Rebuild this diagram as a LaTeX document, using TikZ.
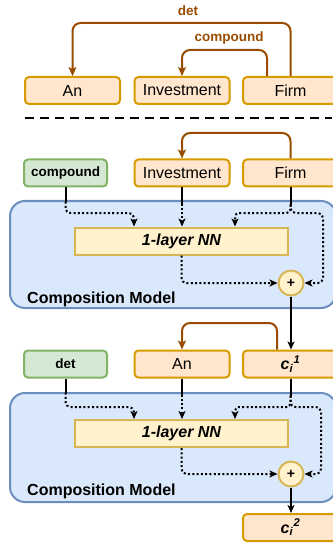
\documentclass[tikz,border=0pt]{standalone}
\usepackage{fontspec}
\setmainfont{Liberation Sans}
\usetikzlibrary{arrows.meta,calc}

\definecolor{ofill}{HTML}{FFE6CC}
\definecolor{ostroke}{HTML}{D79B00}
\definecolor{gfill}{HTML}{D5E8D4}
\definecolor{gstroke}{HTML}{82B366}
\definecolor{bfill}{HTML}{DAE8FC}
\definecolor{bstroke}{HTML}{6C8EBF}
\definecolor{yfill}{HTML}{FFF2CC}
\definecolor{ystroke}{HTML}{D6B656}
\definecolor{depbrown}{HTML}{994C00}

\tikzset{
  obox/.style={draw=ostroke, fill=ofill, line width=2pt, rounded corners=4pt,
    minimum width=95pt, minimum height=27pt, inner sep=0pt,
    font=\fontsize{16}{19}\selectfont},
  gbox/.style={draw=gstroke, fill=gfill, line width=2pt, rounded corners=4pt,
    minimum width=83pt, minimum height=27pt, inner sep=0pt,
    font=\bfseries\fontsize{13.5}{16}\selectfont},
  nnbox/.style={draw=ystroke, fill=yfill, line width=2pt,
    minimum width=213pt, minimum height=27pt, inner sep=0pt,
    font=\bfseries\itshape\fontsize{16}{19}\selectfont},
  plusnode/.style={circle, draw=ystroke, fill=yfill, line width=2pt,
    minimum size=25pt, inner sep=0pt, font=\bfseries\fontsize{14}{16}\selectfont},
  modelbox/.style={draw=bstroke, fill=bfill, line width=2pt, rounded corners=15pt,
    minimum width=326pt, inner sep=0pt},
  modellbl/.style={anchor=base west, inner sep=0pt,
    font=\bfseries\fontsize{16}{19}\selectfont},
  deplbl/.style={inner sep=0pt, text=depbrown,
    font=\bfseries\fontsize{13.5}{16}\selectfont},
  deparrow/.style={draw=depbrown, line width=2pt, rounded corners=8pt,
    -{Stealth[length=9pt,width=8pt,inset=2pt]}},
  solidseg/.style={draw=black, line width=2pt},
  solidarrow/.style={draw=black, line width=2pt,
    -{Stealth[length=8pt,width=7pt,inset=2pt]}},
  dotarrow/.style={draw=black, line width=2pt, dash pattern=on 2pt off 2.3pt,
    rounded corners=5pt, -{Stealth[length=8pt,width=7pt,inset=2pt]}},
}

\begin{document}
\begin{tikzpicture}[x=1pt, y=-1pt]
  \useasboundingbox (0,0) rectangle (332,545);

  % ---------- dependency parse ----------
  \node[obox] (an0)   at (72.5,90.5) {An};
  \node[obox] (inv0)  at (182,90.5)  {Investment};
  \node[obox] (firm0) at (290.5,90.5) {Firm};

  \draw[deparrow] (firm0.north) -- (290.5,23) -- (72.5,23) -- (an0.north);
  \node[deplbl] (detlbl) at (188,11) {det};
  \draw[deparrow] ($(firm0.north)+(-23.5,0)$) -- (267,50) -- (182,50) -- (inv0.north);
  \node[deplbl] (cmplbl) at (229,38) {compound};

  \draw[line width=2pt, dash pattern=on 9pt off 6pt] (25,118) -- (332,118);

  % ---------- first composition ----------
  \node[modelbox, minimum height=107pt] (cm1) at (173,254.5) {};
  \node[modellbl] (cm1lbl) at (27,303) {Composition Model};

  \node[gbox] (cmp)   at (65.5,173) {compound};
  \node[obox] (inv1)  at (182,173)  {Investment};
  \node[obox] (firm1) at (290.5,173) {Firm};
  \draw[deparrow] (firm1.north) -- (290.5,133) -- (182,133) -- (inv1.north);

  \node[nnbox] (nn1) at (181.5,241) {1-layer NN};
  \node[plusnode] (p1) at (291,283) {+};

  \coordinate (ka1) at (134,213);
  \coordinate (kb1) at (235,213);
  \coordinate (kc1) at (323,213);

  \draw[solidseg] (cmp.south) -- ++(0,14) coordinate (cmpd);
  \draw[dotarrow] (cmpd) |- (ka1) -- (ka1 |- nn1.north);
  \draw[solidseg] (inv1.south) -- ++(0,16) coordinate (invd);
  \draw[dotarrow] (invd) -- (invd |- nn1.north);
  \draw[solidseg] (firm1.south) -- ++(0,17) coordinate (firmd);
  \draw[dotarrow, rounded corners=4pt] (firmd) |- (kb1) -- (kb1 |- nn1.north);
  \draw[dotarrow] (firmd) |- (kc1) |- (p1.east);
  \draw[dotarrow] (nn1.south) |- (p1.west);

  % ---------- second composition ----------
  \node[gbox] (detb) at (65.5,364) {det};
  \node[obox] (an1)  at (182,364)  {An};
  \node[obox] (c1)   at (290.5,364)
    {\bfseries\itshape c\textsubscript{i}\kern0.3pt\textsuperscript{1}};

  \draw[solidarrow] (p1.south) -- (p1.south |- c1.north);
  \draw[deparrow] ($(c1.north)+(-13.5,0)$) -- (277,323) -- (182,323) -- (an1.north);

  \node[modelbox, minimum height=109pt] (cm2) at (173,447.5) {};
  \node[modellbl] (cm2lbl) at (27,495.5) {Composition Model};

  \node[nnbox] (nn2) at (181.5,433.5) {1-layer NN};
  \node[plusnode] (p2) at (291,474) {+};

  \coordinate (ka2) at (134,407);
  \coordinate (kb2) at (235,407);
  \coordinate (kc2) at (321,407);

  \draw[solidseg] (detb.south) -- ++(0,14) coordinate (detd);
  \draw[dotarrow] (detd) |- (ka2) -- (ka2 |- nn2.north);
  \draw[solidseg] (an1.south) -- ++(0,16) coordinate (and);
  \draw[dotarrow] (and) -- (and |- nn2.north);
  \draw[solidseg] (c1.south) -- ++(0,17) coordinate (c1d);
  \draw[dotarrow, rounded corners=4pt] (c1d) |- (kb2) -- (kb2 |- nn2.north);
  \draw[dotarrow] (c1d) |- (kc2) |- (p2.east);
  \draw[dotarrow] (nn2.south) |- (p2.west);

  \node[obox] (c2) at (290.5,527.5)
    {\bfseries\itshape c\textsubscript{i}\kern0.3pt\textsuperscript{2}};
  \draw[solidarrow] (p2.south) -- (p2.south |- c2.north);
\end{tikzpicture}
\end{document}
